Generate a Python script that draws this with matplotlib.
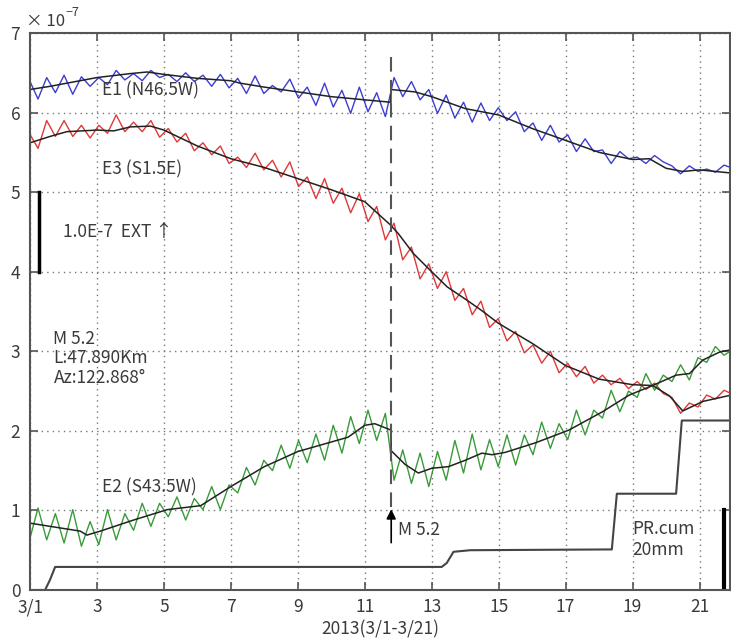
import matplotlib
matplotlib.use('Agg')
import matplotlib.pyplot as plt
import numpy as np

plt.rcParams['font.family'] = ['Noto Sans CJK JP', 'DejaVu Sans']

# sample times of the tidal highs/lows (half of the 12.42 h M2 period), day of March 2013
t_ext = 0.98 + 0.2594 * np.arange(82)

# raw strain (x1e-7) at those extrema
e1_raw = [6.41, 6.17, 6.44, 6.25, 6.47, 6.23, 6.45, 6.33, 6.44, 6.35,
          6.53, 6.41, 6.49, 6.40, 6.53, 6.44, 6.48, 6.39, 6.50, 6.39,
          6.47, 6.33, 6.48, 6.31, 6.43, 6.24, 6.46, 6.24, 6.34, 6.26,
          6.42, 6.18, 6.32, 6.09, 6.37, 6.07, 6.28, 5.99, 6.32, 6.01,
          6.25, 5.95, 6.44, 6.20, 6.39, 6.16, 6.29, 5.99, 6.22, 5.93,
          6.13, 5.88, 6.12, 5.90, 6.06, 5.90, 6.01, 5.76, 5.87, 5.65,
          5.84, 5.63, 5.72, 5.51, 5.67, 5.51, 5.53, 5.36, 5.51, 5.42,
          5.44, 5.36, 5.46, 5.38, 5.33, 5.23, 5.33, 5.26, 5.29, 5.25,
          5.34, 5.30]
e3_raw = [5.74, 5.55, 5.90, 5.70, 5.90, 5.70, 5.84, 5.68, 5.84, 5.74,
          5.97, 5.76, 5.88, 5.76, 5.90, 5.69, 5.80, 5.63, 5.74, 5.52,
          5.62, 5.47, 5.58, 5.36, 5.44, 5.31, 5.49, 5.28, 5.40, 5.19,
          5.38, 5.07, 5.19, 4.92, 5.17, 4.86, 5.05, 4.74, 4.98, 4.63,
          4.82, 4.40, 4.61, 4.15, 4.31, 3.91, 4.10, 3.79, 4.00, 3.64,
          3.79, 3.46, 3.63, 3.30, 3.41, 3.13, 3.25, 2.98, 3.08, 2.85,
          3.00, 2.73, 2.85, 2.68, 2.81, 2.60, 2.70, 2.58, 2.66, 2.53,
          2.62, 2.52, 2.60, 2.47, 2.42, 2.22, 2.35, 2.30, 2.45, 2.40,
          2.51, 2.46]
e2_raw = [0.62, 1.03, 0.63, 0.96, 0.59, 1.01, 0.55, 0.86, 0.57, 1.01,
          0.63, 0.96, 0.75, 1.09, 0.80, 1.09, 0.92, 1.17, 0.88, 1.15,
          1.01, 1.30, 1.01, 1.32, 1.22, 1.54, 1.32, 1.63, 1.50, 1.82,
          1.53, 1.88, 1.60, 1.96, 1.63, 2.07, 1.72, 2.18, 1.84, 2.26,
          1.88, 2.22, 1.38, 1.76, 1.34, 1.72, 1.30, 1.74, 1.38, 1.88,
          1.47, 1.96, 1.51, 1.89, 1.55, 1.95, 1.57, 1.95, 1.70, 2.11,
          1.78, 2.09, 1.89, 2.26, 1.95, 2.26, 2.16, 2.51, 2.24, 2.50,
          2.42, 2.72, 2.51, 2.70, 2.62, 2.83, 2.64, 2.92, 2.86, 3.06,
          2.95, 3.02]

# tide-corrected (black) curves
e1_t = [1.0, 1.6, 3.0, 4.0, 4.5, 5.0, 6.0, 7.0, 7.27, 8.0, 9.0, 10.0, 11.0, 11.78, 11.78,
        12.5, 13.0, 14.0, 14.5, 15.0, 16.0, 17.0, 18.0, 19.0, 19.5, 20.0, 20.5, 21.0, 21.95]
e1_v = [6.29, 6.33, 6.44, 6.49, 6.51, 6.48, 6.43, 6.40, 6.37, 6.32, 6.26, 6.20, 6.16, 6.13, 6.29,
        6.26, 6.20, 6.05, 6.01, 5.97, 5.80, 5.65, 5.50, 5.41, 5.42, 5.30, 5.26, 5.28, 5.24]
e3_t = [1.0, 1.6, 2.1, 3.0, 3.5, 4.0, 4.6, 5.0, 5.6, 6.0, 7.0, 8.0, 9.0, 10.0, 11.0, 11.76,
        12.0, 12.45, 12.95, 13.46, 14.06, 14.5, 15.0, 16.0, 17.0, 18.0, 19.0, 19.6, 20.1, 20.5,
        21.1, 21.95]
e3_v = [5.62, 5.70, 5.76, 5.78, 5.77, 5.82, 5.83, 5.78, 5.66, 5.58, 5.42, 5.31, 5.17, 5.03, 4.88, 4.59,
        4.48, 4.23, 4.02, 3.81, 3.64, 3.51, 3.35, 3.10, 2.82, 2.65, 2.58, 2.57, 2.44, 2.25,
        2.37, 2.45]
e2_t = [1.0, 1.6, 2.5, 2.7, 3.1, 4.1, 5.1, 6.1, 7.0, 8.0, 9.0, 10.0, 10.5, 11.0, 11.3, 11.78,
        11.79, 12.2, 12.6, 13.0, 13.5, 14.0, 14.5, 14.8, 15.2, 16.1, 17.1, 18.1, 18.9, 19.6,
        20.3, 20.7, 21.1, 21.6, 21.95]
e2_v = [0.84, 0.80, 0.74, 0.69, 0.74, 0.88, 1.01, 1.06, 1.30, 1.55, 1.74, 1.86, 1.92, 2.07, 2.09, 2.01,
        1.75, 1.58, 1.47, 1.53, 1.55, 1.63, 1.72, 1.70, 1.73, 1.85, 2.01, 2.24, 2.45, 2.57,
        2.70, 2.72, 2.89, 2.99, 3.02]

# cumulative precipitation (1 unit = 20 mm)
pr_t = [1.0, 1.45, 1.6, 1.75, 13.30, 13.45, 13.65, 14.15, 18.38, 18.53, 20.30, 20.47, 21.95]
pr_v = [0.0, 0.0, 0.13, 0.29, 0.29, 0.34, 0.48, 0.50, 0.51, 1.21, 1.21, 2.13, 2.13]

quake_day = 11.79
xticks = [1, 3, 5, 7, 9, 11, 13, 15, 17, 19, 21]
xlabels = ['3/1', '3', '5', '7', '9', '11', '13', '15', '17', '19', '21']

txt = '#3a3a3a'
fs = 12.5

fig = plt.figure(figsize=(7.31, 6.41), dpi=100)
ax = fig.add_axes([30 / 731, 51 / 641, 700 / 731, 557 / 641])

ax.plot(t_ext, e1_raw, color='#3d3dd0', lw=1.0, solid_joinstyle='round')
ax.plot(t_ext, e3_raw, color='#e03838', lw=1.0, solid_joinstyle='round')
ax.plot(t_ext, e2_raw, color='#3a9a3a', lw=1.0, solid_joinstyle='round')
for tt, vv in [(e1_t, e1_v), (e3_t, e3_v), (e2_t, e2_v)]:
    ax.plot(tt, vv, color='#222222', lw=1.1)
ax.plot(pr_t, pr_v, color='#444444', lw=1.5)

# earthquake marker
ax.plot([quake_day, quake_day], [1.04, 6.78], color='#555555', lw=1.5, dashes=(7, 4))
ax.annotate('', xy=(quake_day, 1.05), xytext=(quake_day, 0.56),
            arrowprops=dict(arrowstyle='-|>', color='black', lw=1.2, mutation_scale=14))
ax.text(11.99, 0.75, 'M 5.2', fontsize=fs, color=txt, va='center')

# scale bars
ax.plot([1.28, 1.28], [4.0, 5.0], color='black', lw=2.5)
ax.plot([21.73, 21.73], [0.0, 1.0], color='black', lw=3)

ax.text(3.15, 6.28, 'E1 (N46.5W)', fontsize=fs, color=txt, va='center')
ax.text(3.15, 5.28, 'E3 (S1.5E)', fontsize=fs, color=txt, va='center')
ax.text(3.15, 1.29, 'E2 (S43.5W)', fontsize=fs, color=txt, va='center')
ax.text(2.0, 4.50, '1.0E-7  EXT \u2191', fontsize=fs, color=txt, va='center')
ax.text(1.70, 2.91, 'M 5.2\nL:47.890Km\nAz:122.868\u00b0', fontsize=fs, color=txt,
        va='center', linespacing=1.1)
ax.text(18.98, 0.63, 'PR.cum\n20mm', fontsize=fs, color=txt, va='center', linespacing=1.2)

ax.set_xlim(1, 21.91)
ax.set_ylim(0, 7)
ax.set_xticks(xticks)
ax.set_xticklabels(xlabels)
ax.set_yticks(range(8))
ax.tick_params(direction='in', length=6, width=1.2, top=True, right=True,
               labelsize=fs, labelcolor=txt, color='#555555')
ax.tick_params(axis='x', pad=6)
ax.tick_params(axis='y', pad=7)
ax.grid(True, linestyle=(0, (1, 3)), color='#777777', lw=1)
for s in ax.spines.values():
    s.set_color('#555555')
    s.set_linewidth(1.5)
ax.set_xlabel('2013(3/1-3/21)', fontsize=fs, color=txt, labelpad=3)

fig.text(26 / 731, 1 - 26 / 641, '\u00d7 10', fontsize=12, color=txt)
fig.text(66 / 731, 1 - 16 / 641, '\u22127', fontsize=9, color=txt)

fig.savefig('out.png', dpi=100)
